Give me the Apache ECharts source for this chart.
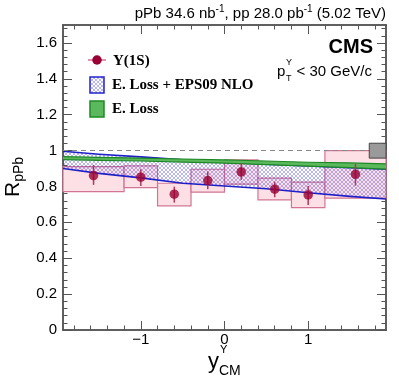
<!DOCTYPE html>
<html><head><meta charset="utf-8">
<script src="https://cdn.jsdelivr.net/npm/echarts@6/dist/echarts.min.js"></script>
<style>html,body{margin:0;padding:0;background:#fff}#c{width:399px;height:383px}</style>
</head><body><div id="c"></div>
<script>
// ---- data ----
const binLow    = [-1.93, -1.2, -0.8, -0.4, 0.0, 0.4, 0.8, 1.2];
const binHigh   = [-1.2, -0.8, -0.4, 0.0, 0.4, 0.8, 1.2, 1.93];
const binCenter = [-1.565, -1.0, -0.6, -0.2, 0.2, 0.6, 1.0, 1.565];
const rpPb      = [0.861, 0.852, 0.757, 0.833, 0.881, 0.785, 0.753, 0.868];
const statLow   = [0.809, 0.803, 0.710, 0.785, 0.837, 0.740, 0.697, 0.805];
const statHigh  = [0.920, 0.896, 0.799, 0.883, 0.931, 0.827, 0.803, 0.926];
const sysLow    = [0.771, 0.794, 0.692, 0.768, 0.813, 0.725, 0.682, 0.735];
const sysHigh   = [0.911, 0.915, 0.818, 0.896, 0.948, 0.846, 0.824, 1.000];
const globalX   = [1.73, 1.93];
const globalY   = [0.958, 1.041];

const bandX     = [-1.93, -1.5, -1.0, -0.5, 0.0, 0.5, 1.0, 1.5, 1.93];
const eps09Low  = [0.900, 0.873, 0.848, 0.818, 0.803, 0.787, 0.765, 0.745, 0.730];
const eps09High = [0.996, 0.980, 0.965, 0.948, 0.935, 0.924, 0.914, 0.905, 0.896];
const elossLow  = [0.950, 0.946, 0.942, 0.936, 0.930, 0.922, 0.913, 0.905, 0.897];
const elossHigh = [0.966, 0.962, 0.958, 0.953, 0.948, 0.942, 0.935, 0.931, 0.926];

const xMajorTicks = [-1, 0, 1];
const xMinorTicks = [-1.8,-1.6,-1.4,-1.2,-0.8,-0.6,-0.4,-0.2,0.2,0.4,0.6,0.8,1.2,1.4,1.6,1.8];
const yMajorTicks = [0, 0.2, 0.4, 0.6, 0.8, 1, 1.2, 1.4, 1.6];
const yMinorTicks = [];
for (let k = 1; k <= 42; k++) { if (k % 5) yMinorTicks.push(Math.round(k * 4) / 100); }

// ---- styles ----
const SANS = 'Liberation Sans', SERIF = 'Liberation Serif';
function hatch() {
  const c = document.createElement('canvas'); c.width = 4; c.height = 4;
  const g = c.getContext('2d');
  g.strokeStyle = 'rgba(50,50,220,0.5)'; g.lineWidth = 0.7;
  g.beginPath(); g.moveTo(0, 0); g.lineTo(4, 4); g.moveTo(4, 0); g.lineTo(0, 4); g.stroke();
  return c;
}
const hatchPattern = { image: hatch(), repeat: 'repeat' };
const frame = { color: '#555', width: 1.5 };

function xAx(pos, ticks, len, labels) {
  return {
    type: 'value', min: -1.93, max: 1.93, position: pos,
    axisLine: { show: true, onZero: false, lineStyle: frame },
    axisTick: { show: true, inside: true, length: len, customValues: ticks, lineStyle: { color: '#555', width: 1 } },
    axisLabel: labels ? { show: true, customValues: ticks, fontSize: 15, fontFamily: SANS, color: '#000', margin: 2,
      formatter: v => (v < 0 ? '\u2212' + Math.abs(v) : String(v)) } : { show: false },
    splitLine: { show: false }
  };
}
function yAx(pos, ticks, len, labels) {
  return {
    type: 'value', min: 0, max: 1.7, position: pos,
    axisLine: { show: true, onZero: false, lineStyle: frame },
    axisTick: { show: true, inside: true, length: len, customValues: ticks, lineStyle: { color: '#555', width: 1 } },
    axisLabel: labels ? { show: true, customValues: ticks, fontSize: 15, fontFamily: SANS, color: '#000', margin: 6,
      formatter: v => String(Math.round(v * 10) / 10) } : { show: false },
    splitLine: { show: false }
  };
}

// band drawn as one polygon through the axis scales
function bandSeries(lo, hi, fill, edge, edgeWidth, z) {
  return {
    type: 'custom', z: z, clip: true,
    data: bandX.map((x, i) => [x, lo[i], hi[i]]),
    encode: { x: 0, y: [1, 2] },
    renderItem: (p, api) => {
      if (p.dataIndex !== 0) return null;
      const up = bandX.map((x, i) => api.coord([x, hi[i]]));
      const dn = bandX.map((x, i) => api.coord([x, lo[i]]));
      const poly = up.concat(dn.slice().reverse());
      return { type: 'group', children: [
        { type: 'polygon', shape: { points: poly }, style: { fill: fill, stroke: null } },
        { type: 'polyline', shape: { points: up }, style: { fill: null, stroke: edge, lineWidth: edgeWidth } },
        { type: 'polyline', shape: { points: dn }, style: { fill: null, stroke: edge, lineWidth: edgeWidth } }
      ] };
    }
  };
}

const chart = echarts.init(document.getElementById('c'), null, { renderer: 'canvas' });
const option = {
  animation: false,
  backgroundColor: '#fff',
  grid: { left: 63, right: 13, top: 25, bottom: 53 },
  xAxis: [xAx('bottom', xMajorTicks, 9, true), xAx('bottom', xMinorTicks, 4.5, false),
          xAx('top', xMajorTicks, 9, false), xAx('top', xMinorTicks, 4.5, false)],
  yAxis: [yAx('left', yMajorTicks, 9, true), yAx('left', yMinorTicks, 4.5, false),
          yAx('right', yMajorTicks, 9, false), yAx('right', yMinorTicks, 4.5, false)],
  series: [
    { // systematic boxes
      type: 'custom', z: 1,
      data: binLow.map((l, i) => [l, binHigh[i], sysLow[i], sysHigh[i]]),
      encode: { x: [0, 1], y: [2, 3] },
      renderItem: (p, api) => {
        const a = api.coord([api.value(0), api.value(3)]);
        const b = api.coord([api.value(1), api.value(2)]);
        return { type: 'rect', shape: { x: a[0], y: a[1], width: b[0] - a[0], height: b[1] - a[1] },
          style: { fill: '#fde0e5', stroke: '#d27594', lineWidth: 1.2 } };
      },
      markLine: { silent: true, symbol: ['none', 'none'], label: { show: false },
        lineStyle: { color: '#888', type: [5, 4], width: 1 }, data: [{ yAxis: 1 }] }
    },
    bandSeries(eps09Low, eps09High, hatchPattern, '#1f1fc8', 1.6, 2),
    bandSeries(elossLow, elossHigh, '#5cb85c', '#1c8a24', 1.2, 3),
    { // stat error bars
      type: 'custom', z: 4,
      data: binCenter.map((c, i) => [c, statLow[i], statHigh[i]]),
      encode: { x: 0, y: [1, 2] },
      renderItem: (p, api) => {
        const a = api.coord([api.value(0), api.value(1)]);
        const b = api.coord([api.value(0), api.value(2)]);
        return { type: 'line', shape: { x1: a[0], y1: a[1], x2: b[0], y2: b[1] },
          style: { stroke: '#b8325f', lineWidth: 1.5 } };
      }
    },
    { // points
      type: 'scatter', z: 5, symbol: 'circle', symbolSize: 9.5,
      data: binCenter.map((c, i) => [c, rpPb[i]]),
      itemStyle: { color: '#990033' }
    },
    { // global uncertainty box
      type: 'custom', z: 6,
      data: [[globalX[0], globalX[1], globalY[0], globalY[1]]],
      encode: { x: [0, 1], y: [2, 3] },
      renderItem: (p, api) => {
        const a = api.coord([api.value(0), api.value(3)]);
        const b = api.coord([api.value(1), api.value(2)]);
        return { type: 'rect', shape: { x: a[0], y: a[1], width: b[0] - a[0], height: b[1] - a[1] },
          style: { fill: '#9a9a9a', stroke: '#444', lineWidth: 1 } };
      }
    }
  ],
  graphic: { elements: [
    { type: 'text', z: 100, style: { x: 386, y: 4, align: 'right', verticalAlign: 'top', fill: '#000',
        text: '{n|pPb 34.6 nb}{s|-1}{n|, pp 28.0 pb}{s|-1}{n| (5.02 TeV)}',
        rich: { n: { fontSize: 15, fontFamily: SANS, lineHeight: 20 },
                s: { fontSize: 10, fontFamily: SANS, lineHeight: 12, verticalAlign: 'top' } } } },
    { type: 'text', z: 100, style: { x: 373, y: 37, align: 'right', verticalAlign: 'top', text: 'CMS',
        fontSize: 20, fontWeight: 'bold', fontFamily: SANS, fill: '#000' } },
    { type: 'text', z: 100, style: { x: 277, y: 72, align: 'left', verticalAlign: 'middle', text: 'p',
        fontSize: 15, fontFamily: SANS, fill: '#000' } },
    { type: 'text', z: 100, style: { x: 286, y: 63, align: 'left', verticalAlign: 'middle', text: '\u03A5',
        fontSize: 9, fontFamily: SANS, fill: '#000' } },
    { type: 'text', z: 100, style: { x: 286, y: 79, align: 'left', verticalAlign: 'middle', text: 'T',
        fontSize: 9, fontFamily: SANS, fill: '#000' } },
    { type: 'text', z: 100, style: { x: 372, y: 72, align: 'right', verticalAlign: 'middle', text: '< 30 GeV/c',
        fontSize: 15, fontFamily: SANS, fill: '#000' } },
    // legend
    { type: 'line', z: 100, shape: { x1: 88, y1: 60, x2: 106, y2: 60 }, style: { stroke: '#d27594', lineWidth: 1.5 } },
    { type: 'circle', z: 101, shape: { cx: 97, cy: 60, r: 4.75 }, style: { fill: '#990033' } },
    { type: 'text', z: 100, style: { x: 113, y: 61, align: 'left', verticalAlign: 'middle', text: '\u03A5(1S)',
        fontSize: 15, fontWeight: 'bold', fontFamily: SERIF, fill: '#000' } },
    { type: 'rect', z: 100, shape: { x: 90, y: 77, width: 14, height: 16 },
        style: { fill: hatchPattern, stroke: '#2222cc', lineWidth: 1.5 } },
    { type: 'text', z: 100, style: { x: 112, y: 85, align: 'left', verticalAlign: 'middle', text: 'E. Loss + EPS09 NLO',
        fontSize: 15, fontWeight: 'bold', fontFamily: SERIF, fill: '#000' } },
    { type: 'rect', z: 100, shape: { x: 90, y: 101, width: 14, height: 16 },
        style: { fill: '#5cb85c', stroke: '#1c8a24', lineWidth: 1.5 } },
    { type: 'text', z: 100, style: { x: 112, y: 109, align: 'left', verticalAlign: 'middle', text: 'E. Loss',
        fontSize: 15, fontWeight: 'bold', fontFamily: SERIF, fill: '#000' } },
    // x axis title
    { type: 'text', z: 100, style: { x: 208, y: 362, align: 'left', verticalAlign: 'middle', text: 'y',
        fontSize: 22, fontFamily: SANS, fill: '#000' } },
    { type: 'text', z: 100, style: { x: 220, y: 350, align: 'left', verticalAlign: 'middle', text: '\u03A5',
        fontSize: 11, fontFamily: SANS, fill: '#000' } },
    { type: 'text', z: 100, style: { x: 219, y: 371, align: 'left', verticalAlign: 'middle', text: 'CM',
        fontSize: 14, fontFamily: SANS, fill: '#000' } },
    // y axis title
    { type: 'text', z: 100, x: 13, y: 197, rotation: Math.PI / 2,
      style: { x: 0, y: 0, align: 'left', verticalAlign: 'middle', fill: '#000',
        text: '{R|R}{s|pPb}',
        rich: { R: { fontSize: 21, fontFamily: SANS, lineHeight: 26 },
                s: { fontSize: 14, fontFamily: SANS, lineHeight: 14, verticalAlign: 'bottom' } } } }
  ] }
};
chart.setOption(option);
</script></body></html>
